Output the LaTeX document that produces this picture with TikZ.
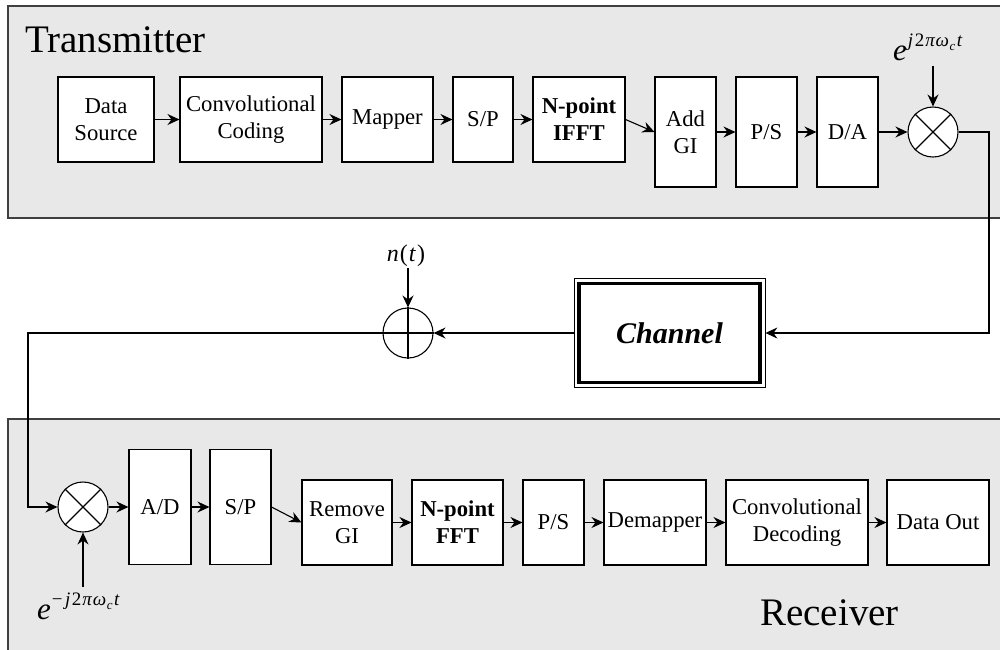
\documentclass[tikz,border=0pt]{standalone}
\usepackage{fontspec}
\setmainfont{Liberation Serif}
\usetikzlibrary{arrows.meta}
\definecolor{panelgray}{HTML}{E8E8E8}
\definecolor{panelline}{HTML}{404040}
\begin{document}
\begin{tikzpicture}[x=1pt,y=-1pt,
  blk/.style={draw=black, fill=white, line width=1.1pt, inner sep=0pt, align=center,
    font=\fontsize{22.7}{27}\selectfont},
  arr/.style={-{Stealth[length=12pt,width=11pt,inset=4pt]}, line width=1.1pt},
  panel/.style={fill=panelgray, draw=panelline, line width=1.6pt},
  mix/.style={circle, draw=black, fill=white, line width=1.1pt, minimum size=50pt, inner sep=0pt},
  lbl/.style={inner sep=0pt, anchor=base west},
  expl/.style={inner sep=2pt, anchor=base west, font=\fontsize{31}{31}\selectfont}]
\useasboundingbox (0,0) rectangle (1000,649);
\clip (0,0) rectangle (1000,649);
% panels
\draw[panel] (8,6) rectangle (1012,218);
\draw[panel] (8,419) rectangle (1012,662);
\node[lbl, font=\fontsize{39}{39}\selectfont] (tx) at (25,52) {Transmitter};
\node[lbl, font=\fontsize{39}{39}\selectfont] (rx) at (760,625) {Receiver};
% transmitter blocks
\node[blk, minimum width=96pt, minimum height=85pt] (ds) at (106,119.5) {Data\\Source};
\node[blk, minimum width=142pt, minimum height=85pt] (cc) at (251,119.5) {Convolutional\\Coding};
\node[blk, minimum width=91pt, minimum height=85pt] (map) at (387.5,119.5) {Mapper};
\node[blk, minimum width=60pt, minimum height=85pt] (sp) at (483,119.5) {S/P};
\node[blk, minimum width=92pt, minimum height=85pt, font=\fontsize{22.7}{27}\selectfont\bfseries] (ifft) at (579,119.5) {N-point\\IFFT};
\node[blk, minimum width=61pt, minimum height=110pt] (agi) at (685.5,132) {Add\\GI};
\node[blk, minimum width=61pt, minimum height=110pt] (ps) at (766.5,132) {P/S};
\node[blk, minimum width=61pt, minimum height=110pt] (da) at (847.5,132) {D/A};
\node[mix] (m1) at (933,132) {};
\draw[line width=1.1pt] (m1.45) -- (m1.225) (m1.135) -- (m1.315);
\node[expl] (e1) at (891,60) {\textit{e}\kern1pt\raisebox{14pt}{\fontsize{19}{19}\selectfont\textit{j}\kern1.5pt2\kern1pt\textit{π}\kern0.5pt\textit{ω}\raisebox{-4pt}{\fontsize{13}{13}\selectfont\kern0.5pt\textit{c}}\kern1.5pt\textit{t}}};
% transmitter connectors
\draw[arr] (ds) -- (cc);
\draw[arr] (cc) -- (map);
\draw[arr] (map) -- (sp);
\draw[arr] (sp) -- (ifft);
\draw[arr] (ifft.east) -- (agi.west);
\draw[arr] (agi) -- (ps);
\draw[arr] (ps) -- (da);
\draw[arr] (da) -- (m1);
\draw[arr, shorten <=3pt] (e1.south -| m1) -- (m1.north);
% channel
\node[draw=black, line width=0.8pt, fill=white, minimum width=191pt, minimum height=109pt,
  font=\fontsize{30}{30}\selectfont\bfseries\itshape] (ch) at (669.5,333) {Channel};
\draw[line width=3.5pt] ([shift={(5.5,5.5)}]ch.north west) rectangle ([shift={(-5.5,-5.5)}]ch.south east);
\coordinate (tc) at (989,132);
\draw[arr] (m1.east) -- (tc) |- (ch.east);
% adder
\node[mix] (sum) at (408,333) {};
\draw[line width=1.1pt] (sum.north) -- (sum.south) (sum.east) -- (sum.west);
\node[inner sep=1pt, anchor=base, font=\fontsize{24}{24}\selectfont] (nt) at (406,261) {\textit{n}\kern1pt(\kern1pt\textit{t}\kern1pt)};
\draw[arr, shorten <=1pt] (nt.south -| sum) -- (sum.north);
\draw[arr] (ch.west) -- (sum.east);
\coordinate (rc) at (28,333);
% receiver
\node[mix] (m2) at (83,507) {};
\draw[line width=1.1pt] (m2.45) -- (m2.225) (m2.135) -- (m2.315);
\draw[arr] (sum.west) -- (rc) |- (m2.west);
\node[expl] (e2) at (35,619) {\textit{e}\kern1pt\raisebox{14pt}{\fontsize{19}{19}\selectfont −\kern2.5pt\textit{j}\kern1.5pt2\kern1pt\textit{π}\kern0.5pt\textit{ω}\raisebox{-4pt}{\fontsize{13}{13}\selectfont\kern0.5pt\textit{c}}\kern1.5pt\textit{t}}};
\draw[arr, shorten <=3pt] (e2.north -| m2) -- (m2.south);
\node[blk, minimum width=62pt, minimum height=115pt] (ad) at (160,507) {A/D};
\node[blk, minimum width=61pt, minimum height=115pt] (sp2) at (240.5,507) {S/P};
\node[blk, minimum width=90pt, minimum height=85pt] (rgi) at (347,522.5) {Remove\\GI};
\node[blk, minimum width=91pt, minimum height=85pt, font=\fontsize{22.7}{27}\selectfont\bfseries] (fft) at (457.5,522.5) {N-point\\FFT};
\node[blk, minimum width=61pt, minimum height=85pt] (ps2) at (553.5,522.5) {P/S};
\node[blk, minimum width=102pt, minimum height=85pt] (dem) at (655,522.5) {Demapper};
\node[blk, minimum width=142pt, minimum height=85pt] (cd) at (797,522.5) {Convolutional\\Decoding};
\node[blk, minimum width=102pt, minimum height=85pt] (dout) at (938,522.5) {Data Out};
\draw[arr] (m2) -- (ad);
\draw[arr] (ad) -- (sp2);
\draw[arr] (sp2.east) -- (rgi.west);
\draw[arr] (rgi) -- (fft);
\draw[arr] (fft) -- (ps2);
\draw[arr] (ps2) -- (dem);
\draw[arr] (dem) -- (cd);
\draw[arr] (cd) -- (dout);
\end{tikzpicture}
\end{document}
